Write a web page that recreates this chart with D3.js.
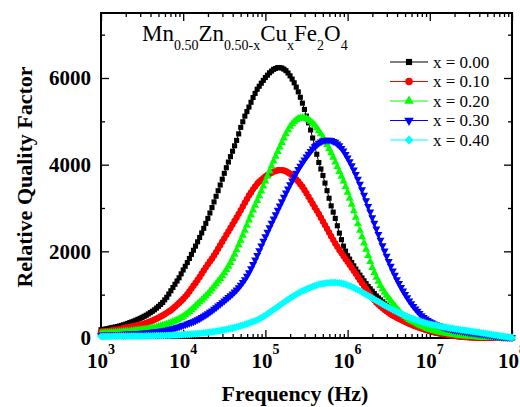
<!DOCTYPE html>
<html>
<head>
<meta charset="utf-8">
<script src="https://cdn.jsdelivr.net/npm/d3@7"></script>
<style>
body { margin: 0; background: #fff; }
text { font-family: "Liberation Serif", "Times New Roman", serif; }
</style>
</head>
<body>
<div id="chart"></div>
<script>
// measured sweep, log10 of frequency (Hz)
var freqExp = [3,3.025,3.05,3.075,3.1,3.125,3.15,3.175,3.2,3.225,3.25,3.275,3.3,3.325,3.35,3.375,3.4,3.425,3.45,3.475,
3.5,3.525,3.55,3.575,3.6,3.625,3.65,3.675,3.7,3.725,3.75,3.775,3.8,3.825,3.85,3.875,3.9,3.925,3.95,3.975,
4,4.025,4.05,4.075,4.1,4.125,4.15,4.175,4.2,4.225,4.25,4.275,4.3,4.325,4.35,4.375,4.4,4.425,4.45,4.475,
4.5,4.525,4.55,4.575,4.6,4.625,4.65,4.675,4.7,4.725,4.75,4.775,4.8,4.825,4.85,4.875,4.9,4.925,4.95,4.975,
5,5.025,5.05,5.075,5.1,5.125,5.15,5.175,5.2,5.225,5.25,5.275,5.3,5.325,5.35,5.375,5.4,5.425,5.45,5.475,
5.5,5.525,5.55,5.575,5.6,5.625,5.65,5.675,5.7,5.725,5.75,5.775,5.8,5.825,5.85,5.875,5.9,5.925,5.95,5.975,
6,6.025,6.05,6.075,6.1,6.125,6.15,6.175,6.2,6.225,6.25,6.275,6.3,6.325,6.35,6.375,6.4,6.425,6.45,6.475,
6.5,6.525,6.55,6.575,6.6,6.625,6.65,6.675,6.7,6.725,6.75,6.775,6.8,6.825,6.85,6.875,6.9,6.925,6.95,6.975,
7,7.025,7.05,7.075,7.1,7.125,7.15,7.175,7.2,7.225,7.25,7.275,7.3,7.325,7.35,7.375,7.4,7.425,7.45,7.475,
7.5,7.525,7.55,7.575,7.6,7.625,7.65,7.675,7.7,7.725,7.75,7.775,7.8,7.825,7.85,7.875,7.9,7.925,7.95,7.975,8];

// relative quality factor, one list per composition
var qX000 = [190,197,205,215,225,235,245,255,265,277,290,305,320,337,355,372,390,410,430,452,
475,500,525,555,585,617,650,690,730,775,820,880,940,1015,1090,1165,1240,1315,1390,1480,
1570,1655,1740,1835,1930,2025,2120,2220,2320,2425,2530,2645,2760,2885,3010,3140,3270,3400,3530,3665,
3800,3930,4060,4185,4310,4435,4560,4710,4860,4990,5120,5225,5330,5440,5550,5645,5740,5810,5880,5945,
6010,6065,6120,6160,6200,6220,6240,6240,6230,6205,6170,6115,6050,5975,5890,5790,5680,5555,5420,5275,
5120,4965,4800,4615,4430,4240,4050,3900,3750,3575,3400,3225,3050,2905,2760,2590,2420,2270,2120,2005,
1900,1820,1740,1665,1590,1520,1450,1385,1320,1255,1190,1135,1080,1025,970,925,880,835,790,755,
720,685,650,610,570,535,500,470,440,410,380,350,320,295,270,250,230,210,190,172,
155,142,130,117,105,95,85,77,70,62,55,48,42,36,30,26,22,18,15,12,
10,8,7,6,5,4,4,3,3,2,2,2,2,1,1,1,1,1,1,0,0];

var qX010 = [145,150,155,160,165,172,180,187,195,205,215,225,235,245,255,265,275,285,295,305,
315,330,345,362,380,400,420,445,470,495,520,550,580,610,640,680,720,765,810,855,
900,955,1010,1075,1140,1205,1270,1340,1410,1485,1560,1630,1700,1765,1830,1905,1980,2060,2140,2220,
2300,2380,2460,2540,2620,2700,2780,2865,2950,3035,3120,3205,3290,3360,3430,3495,3560,3605,3650,3690,
3730,3760,3790,3815,3840,3855,3870,3875,3875,3865,3850,3820,3790,3750,3710,3660,3610,3550,3490,3415,
3340,3260,3180,3100,3020,2940,2860,2775,2690,2605,2520,2435,2350,2265,2180,2105,2030,1960,1890,1825,
1760,1690,1620,1550,1480,1410,1340,1270,1200,1130,1060,995,930,875,820,775,730,690,650,615,
580,550,520,495,470,445,420,397,375,352,330,310,290,272,255,237,220,205,190,177,
165,152,140,129,118,108,98,89,80,72,65,57,50,44,38,33,28,24,20,17,
14,12,10,8,7,6,5,4,4,3,3,2,2,2,2,1,1,1,1,0,0];

var qX020 = [110,112,115,117,120,122,125,128,132,136,140,145,150,155,160,165,170,175,180,186,
192,198,205,212,220,230,240,252,265,277,290,305,320,337,355,375,395,417,440,470,
500,535,570,610,650,695,740,785,830,875,920,970,1020,1075,1130,1190,1250,1310,1370,1435,
1500,1575,1650,1740,1830,1930,2030,2140,2250,2365,2480,2600,2720,2835,2950,3060,3170,3280,3390,3505,
3620,3735,3850,3965,4080,4190,4300,4405,4510,4610,4710,4800,4880,4940,4990,5030,5060,5075,5085,5080,
5060,5035,5000,4960,4910,4850,4780,4710,4630,4545,4460,4365,4270,4165,4060,3950,3840,3730,3620,3490,
3360,3220,3080,2930,2780,2630,2480,2335,2190,2045,1900,1760,1620,1510,1400,1305,1210,1130,1050,985,
920,860,800,740,680,625,570,530,490,455,420,395,370,345,320,297,275,255,235,217,
200,185,170,157,145,135,125,115,105,97,90,82,75,68,62,56,50,45,40,36,
32,28,25,22,19,16,14,12,10,8,7,6,5,4,3,2,2,1,1,1,1];

var qX030 = [70,71,72,73,75,76,78,80,82,84,86,88,90,92,95,97,100,103,106,109,
112,116,120,125,130,135,140,146,152,159,166,174,183,194,205,217,230,244,258,274,
290,307,325,342,360,380,400,425,450,477,505,535,565,597,630,665,700,740,780,820,
860,900,940,980,1020,1065,1110,1165,1220,1285,1350,1430,1510,1605,1700,1805,1910,2020,2130,2235,
2340,2445,2550,2650,2750,2850,2950,3050,3150,3250,3350,3445,3540,3630,3720,3805,3890,3965,4040,4110,
4180,4245,4310,4365,4420,4460,4500,4525,4550,4560,4570,4565,4560,4540,4520,4480,4440,4380,4320,4240,
4160,4070,3980,3880,3780,3665,3550,3425,3300,3170,3040,2910,2780,2650,2520,2390,2260,2135,2010,1890,
1770,1660,1550,1450,1350,1260,1170,1090,1010,935,860,795,730,675,620,570,520,480,440,410,
380,355,330,310,290,275,260,245,230,217,205,195,185,177,170,162,155,147,140,132,
125,118,112,106,100,94,88,82,75,68,62,56,50,44,38,32,27,22,17,13,10];

var qX040 = [40,40,40,40,40,40,41,41,41,41,42,42,42,42,43,43,44,44,45,45,
46,46,47,48,49,50,51,52,53,54,56,57,59,60,62,64,66,68,71,73,
76,79,82,85,89,93,97,101,106,111,116,121,127,133,140,147,154,162,170,179,
188,198,208,219,230,242,255,268,282,296,311,327,343,360,378,396,415,440,465,492,
520,555,590,622,655,687,720,755,790,822,855,887,920,950,980,1007,1035,1060,1085,1107,
1130,1150,1170,1187,1205,1220,1235,1245,1255,1262,1270,1275,1280,1280,1280,1275,1270,1260,1250,1235,
1220,1200,1180,1157,1135,1110,1085,1057,1030,1002,975,947,920,892,865,837,810,782,755,727,
700,675,650,627,605,582,560,537,515,495,475,457,440,422,405,390,375,360,345,332,
320,310,300,290,280,271,262,253,245,236,228,220,212,204,197,190,183,176,170,162,
155,148,142,135,128,120,112,104,97,89,82,74,66,58,50,42,35,28,22,16,10];

var seriesLabels = ["x = 0.00", "x = 0.10", "x = 0.20", "x = 0.30", "x = 0.40"];
var yMajorTicks = [0, 2000, 4000, 6000];
var yMinorTicks = [1000, 3000, 5000, 7000];
var xMajorExp = [3, 4, 5, 6, 7, 8];

var width = 520, height = 407;
var plotLeft = 101, plotRight = 512, plotTop = 13, plotBottom = 338;

var colours = ["#000000", "#ff0000", "#00ff00", "#0000ff", "#00ffff"];
var shapes = [
    {type: d3.symbolSquare, size: 26, rot: 0},
    {type: d3.symbolCircle, size: 32, rot: 0},
    {type: d3.symbolTriangle, size: 28, rot: 0},
    {type: d3.symbolTriangle, size: 28, rot: 180},
    {type: d3.symbolSquare, size: 30, rot: 45}
];

var series = [qX000, qX010, qX020, qX030, qX040].map(function(vals, i) {
    return {
        label: seriesLabels[i],
        points: vals.map(function(v, j) {
            return {f: Math.pow(10, freqExp[j]), q: v};
        })
    };
});

var svg = d3.select("#chart")
.append("svg")
.attr("width", width)
.attr("height", height);

var x = d3.scaleLog().domain([1e3, 1e8]).range([plotLeft, plotRight]);
var y = d3.scaleLinear().domain([0, 7500]).range([plotBottom, plotTop]);

var xMajor = xMajorExp.map(function(e) { return Math.pow(10, e); });
var xMinor = x.ticks().filter(function(t) {
    return xMajor.indexOf(t) < 0;
});

const styleAxis = (g) => {
    g.select(".domain").remove();
    g.selectAll(".tick line").attr("stroke", "#000").attr("stroke-width", 1.3);
};

// inward ticks on all four sides
svg.append("g").attr("transform", "translate(0," + plotBottom + ")")
.call(d3.axisBottom(x).tickValues(xMajor).tickSize(-8).tickFormat(""))
.call(styleAxis);
svg.append("g").attr("transform", "translate(0," + plotBottom + ")")
.call(d3.axisBottom(x).tickValues(xMinor).tickSize(-4).tickFormat(""))
.call(styleAxis);
svg.append("g").attr("transform", "translate(0," + plotTop + ")")
.call(d3.axisTop(x).tickValues(xMajor).tickSize(-8).tickFormat(""))
.call(styleAxis);
svg.append("g").attr("transform", "translate(0," + plotTop + ")")
.call(d3.axisTop(x).tickValues(xMinor).tickSize(-4).tickFormat(""))
.call(styleAxis);

var yAxis = svg.append("g").attr("transform", "translate(" + plotLeft + ",0)")
.call(d3.axisLeft(y).tickValues(yMajorTicks).tickSize(-8).tickPadding(10).tickFormat(d3.format("d")))
.call(styleAxis);
yAxis.selectAll("text")
.attr("fill", "#000")
.style("font-family", "'Liberation Serif', 'Times New Roman', serif")
.style("font-weight", "bold")
.style("font-size", "21px");

svg.append("g").attr("transform", "translate(" + plotLeft + ",0)")
.call(d3.axisLeft(y).tickValues(yMinorTicks).tickSize(-4).tickFormat(""))
.call(styleAxis);
svg.append("g").attr("transform", "translate(" + plotRight + ",0)")
.call(d3.axisRight(y).tickValues(yMajorTicks).tickSize(-8).tickFormat(""))
.call(styleAxis);
svg.append("g").attr("transform", "translate(" + plotRight + ",0)")
.call(d3.axisRight(y).tickValues(yMinorTicks).tickSize(-4).tickFormat(""))
.call(styleAxis);

// x tick labels as 10^n
var xLab = svg.selectAll(".xlab")
.data(xMajorExp)
.enter()
.append("text")
.attr("class", "xlab")
.attr("x", function(e) { return x(Math.pow(10, e)); })
.attr("y", 368)
.attr("text-anchor", "middle")
.style("font-weight", "bold")
.style("font-size", "21px");
xLab.append("tspan").text("10");
xLab.append("tspan")
.attr("dy", -14)
.style("font-size", "14px")
.text(function(e) { return e; });

// frame
svg.append("rect")
.attr("x", plotLeft)
.attr("y", plotTop)
.attr("width", plotRight - plotLeft)
.attr("height", plotBottom - plotTop)
.attr("fill", "none")
.attr("stroke", "#000")
.attr("stroke-width", 2);

var line = d3.line()
.x(function(d) { return x(d.f); })
.y(function(d) { return y(d.q); });

series.forEach(function(s, i) {
    var g = svg.append("g");
    g.append("path")
    .datum(s.points)
    .attr("d", line)
    .attr("fill", "none")
    .attr("stroke", colours[i])
    .attr("stroke-width", 1);
    var sym = d3.symbol().type(shapes[i].type).size(shapes[i].size);
    g.selectAll(".pt")
    .data(s.points)
    .enter()
    .append("path")
    .attr("class", "pt")
    .attr("d", sym)
    .attr("fill", colours[i])
    .attr("transform", function(d) {
        return "translate(" + x(d.f) + "," + y(d.q) + ") rotate(" + shapes[i].rot + ")";
    });
});

// legend
var legend = svg.selectAll(".legend")
.data(series)
.enter()
.append("g")
.attr("class", "legend")
.attr("transform", function(d, i) {
    return "translate(390," + (62 + i * 19.5) + ")";
});
legend.append("line")
.attr("x1", 0).attr("x2", 38)
.attr("stroke", function(d, i) { return colours[i]; })
.attr("stroke-width", 1.2);
legend.append("path")
.attr("d", function(d, i) {
    return d3.symbol().type(shapes[i].type).size(shapes[i].size + 12)();
})
.attr("fill", function(d, i) { return colours[i]; })
.attr("transform", function(d, i) {
    return "translate(19,0) rotate(" + shapes[i].rot + ")";
});
legend.append("text")
.attr("x", 43)
.attr("dy", "0.35em")
.style("font-size", "17px")
.text(function(d) { return d.label; });

// composition label
var title = svg.append("text")
.attr("x", 142)
.attr("y", 41)
.style("font-size", "23px");
[["Mn", 0], ["0.50", 1], ["Zn", 0], ["0.50-x", 1], ["Cu", 0], ["x", 1], ["Fe", 0], ["2", 1], ["O", 0], ["4", 1]]
.forEach(function(part, i, arr) {
    var prevSub = i > 0 && arr[i - 1][1];
    var dy = part[1] ? 9 : (prevSub ? -9 : 0);
    title.append("tspan")
    .attr("dy", dy)
    .style("font-size", part[1] ? "14px" : "23px")
    .text(part[0]);
});

svg.append("text")
.attr("x", 295)
.attr("y", 401)
.attr("text-anchor", "middle")
.style("font-weight", "bold")
.style("font-size", "22px")
.text("Frequency (Hz)");

svg.append("text")
.attr("transform", "translate(32,177) rotate(-90)")
.attr("text-anchor", "middle")
.style("font-weight", "bold")
.style("font-size", "22px")
.text("Relative Quality Factor");
</script>
</body>
</html>
